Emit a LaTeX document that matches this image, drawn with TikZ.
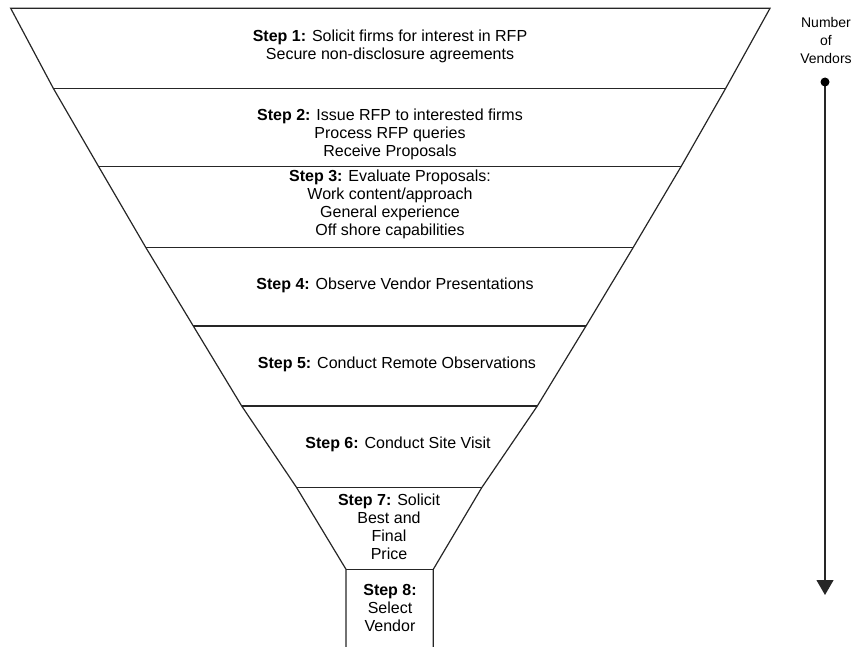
\documentclass[tikz,border=0pt]{standalone}
\usepackage{fontspec}
\setmainfont{Liberation Sans}
\usetikzlibrary{arrows.meta}
\tikzset{
  funnel/.style={draw=black!85, line width=1.2pt, line join=miter},
  steptext/.style={align=center, inner sep=0pt, font=\fontsize{16}{18}\selectfont},
  labeltext/.style={align=center, inner sep=0pt, font=\fontsize{14}{18}\selectfont},
  axisline/.style={draw=black!85, line width=1.2pt, -{Triangle[length=15pt,width=17pt]}}
}
\begin{document}
\begin{tikzpicture}[x=1pt,y=-1pt]
\useasboundingbox (0,0) rectangle (855,647);
% funnel corner points
\coordinate (L0) at (10.7,8.3);   \coordinate (R0) at (770,8.3);
\coordinate (L1) at (53.3,88.3);  \coordinate (R1) at (725.7,88.3);
\coordinate (L2) at (98.7,166.7); \coordinate (R2) at (681,166.7);
\coordinate (L3) at (145.7,247.3);\coordinate (R3) at (633.3,247.3);
\coordinate (L4) at (193.3,326);  \coordinate (R4) at (586,326);
\coordinate (L5) at (241.7,406);  \coordinate (R5) at (537.3,406);
\coordinate (L6) at (296.7,487.7);\coordinate (R6) at (481.7,487.7);
\coordinate (L7) at (346,569.3);  \coordinate (R7) at (433.3,569.3);
\coordinate (BL) at (346,647);    \coordinate (BR) at (433.3,647);
% outline
\draw[funnel] (BL) -- (L7) -- (L6) -- (L5) -- (L4) -- (L3) -- (L2) -- (L1) -- (L0)
  -- (R0) -- (R1) -- (R2) -- (R3) -- (R4) -- (R5) -- (R6) -- (R7) -- (BR);
% dividers
\foreach \i in {1,...,7}{ \draw[funnel] (L\i) -- (R\i); }
% step texts
\node[steptext] (s1) at (390,46) {\textbf{Step 1:} Solicit firms for interest in RFP\\Secure non-disclosure agreements};
\node[steptext] (s2) at (390,134) {\textbf{Step 2:} Issue RFP to interested firms\\Process RFP queries\\Receive Proposals};
\node[steptext] (s3) at (390,204) {\textbf{Step 3:} Evaluate Proposals:\\Work content/approach\\General experience\\Off shore capabilities};
\node[steptext] (s4) at (395,285) {\textbf{Step 4:} Observe Vendor Presentations};
\node[steptext] (s5) at (397,364) {\textbf{Step 5:} Conduct Remote Observations};
\node[steptext] (s6) at (398,444) {\textbf{Step 6:} Conduct Site Visit};
\node[steptext] (s7) at (389,526.5) {\textbf{Step 7:} Solicit\\Best and\\Final\\Price};
\node[steptext] (s8) at (390,608) {\textbf{Step 8:}\\Select\\Vendor};
% number of vendors axis
\node[labeltext] (nv) at (826,40) {Number\\of\\Vendors};
\coordinate (atop) at (825,82);
\coordinate (abot) at (825,595);
\draw[axisline] (atop) -- (abot);
\fill[black] (atop) circle (4.5);
\end{tikzpicture}
\end{document}
